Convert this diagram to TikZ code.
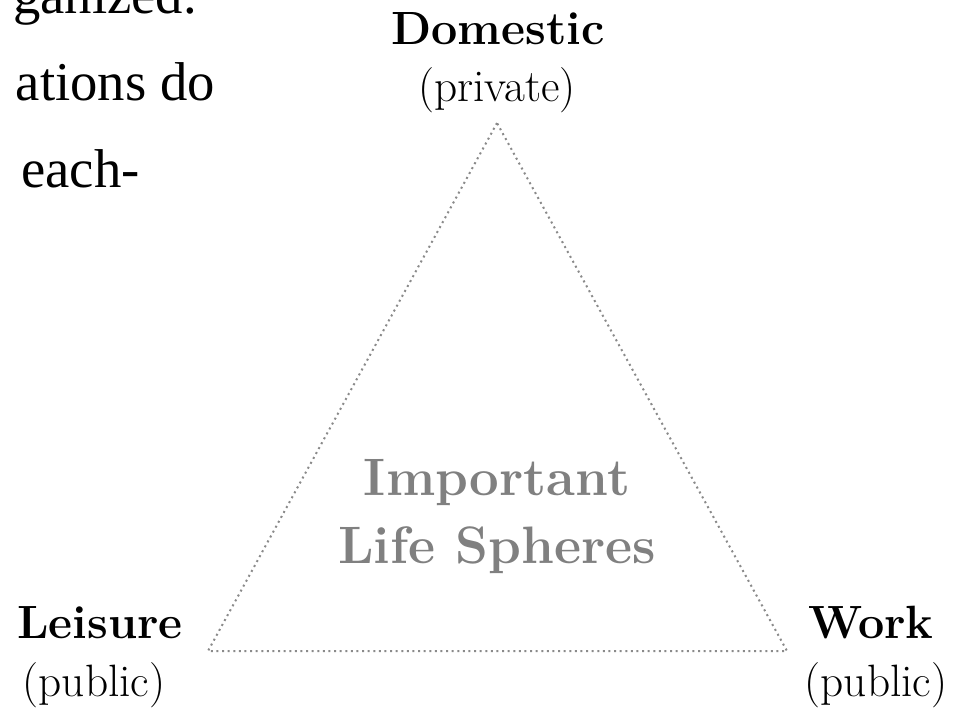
\documentclass[tikz,border=0pt]{standalone}
\usepackage{fontspec}
\newfontfamily\slidefont{Liberation Serif}
\definecolor{linegray}{RGB}{138,138,138}
\definecolor{textgray}{RGB}{128,128,128}

\begin{document}
\begin{tikzpicture}[x=0.75pt,y=-0.75pt]
\useasboundingbox (0,0) rectangle (961,708);

\tikzset{sphere/.style = {anchor=base, inner sep=0pt, font=\fontsize{35}{42}\selectfont\bfseries}}
\tikzset{kind/.style = {anchor=base, inner sep=0pt, font=\fontsize{34}{40}\selectfont}}
\tikzset{body/.style = {anchor=base east, inner sep=0pt, font=\slidefont\fontsize{41}{50}\selectfont}}
\tikzset{side/.style = {draw=linegray, line width=1.5pt, dash pattern=on 1.5pt off 2.7pt}}

% slide text cut off on the left
\foreach \pos/\name/\txt in {{(197,13)/row1/ganized.}, {(215,100)/row2/ations do}, {(140,187)/row3/each-}}
\node[body] (\name) at \pos {\txt};

% corners of the triangle
\coordinate (top) at (497,123);
\coordinate (lft) at (208,651);
\coordinate (rgt) at (787,651);

\foreach \pos/\name/\txt in {{(498,44)/dom/Domestic}, {(100,638)/lei/Leisure}, {(871,638)/wrk/Work}}
\node[sphere] (\name) at \pos {\txt};

\foreach \pos/\name/\txt in {{(497,101)/domk/(private)}, {(94,696)/leik/(public)}, {(876,696)/wrkk/(public)}}
\node[kind] (\name) at \pos {\txt};

\draw[side] (top) -- (lft) -- (rgt) -- cycle;

\node[sphere, font=\fontsize{39.5}{47}\selectfont\bfseries, text=textgray] (imp) at (497,495) {Important};
\node[sphere, font=\fontsize{39.5}{47}\selectfont\bfseries, text=textgray] (life) at (497,563) {Life Spheres};
\end{tikzpicture}
\end{document}
